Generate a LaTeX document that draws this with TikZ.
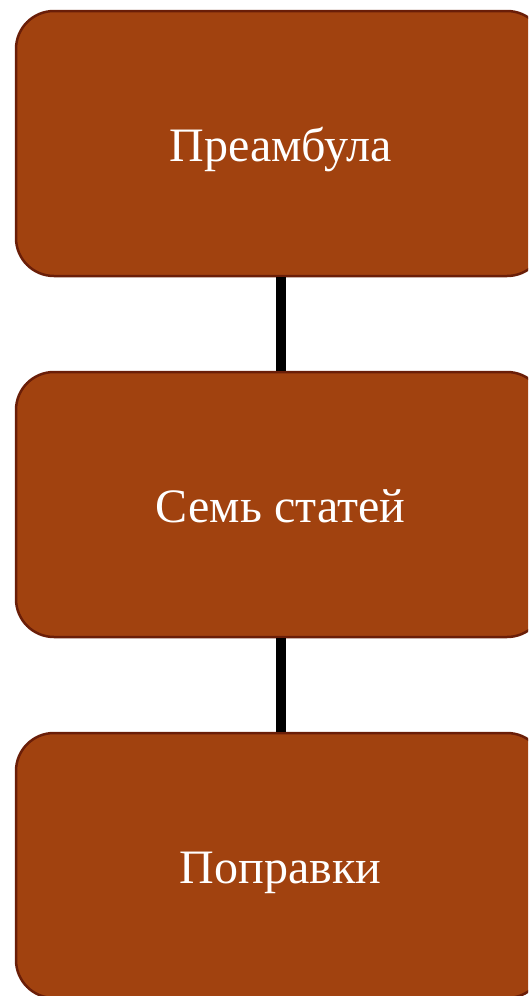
\documentclass[tikz,border=0pt]{standalone}
\usepackage{fontspec}
\setmainfont{Liberation Serif}
\definecolor{boxfill}{HTML}{A1420F}
\definecolor{boxline}{HTML}{6A1E08}
\tikzset{
  stagebox/.style={draw=boxline, line width=2.5pt, fill=boxfill, rounded corners=38pt,
    minimum width=529pt, minimum height=265pt, inner sep=0pt, text=white,
    text height=36pt, text depth=0pt,
    font=\fontsize{48}{56}\selectfont},
  linkline/.style={line width=10pt, black}
}
\begin{document}
\begin{tikzpicture}[x=1pt,y=-1pt]
\useasboundingbox (0,0) rectangle (528,996);
\begin{scope}
\clip (0,0) rectangle (528,996);
\node[stagebox] (a) at (280.5,143.5) {Преамбула};
\node[stagebox] (b) at (280.5,504.5) {Семь статей};
\node[stagebox] (c) at (280.5,865.5) {Поправки};
\draw[linkline] (a.south) -- (b.north);
\draw[linkline] (b.south) -- (c.north);
\end{scope}
\end{tikzpicture}
\end{document}
